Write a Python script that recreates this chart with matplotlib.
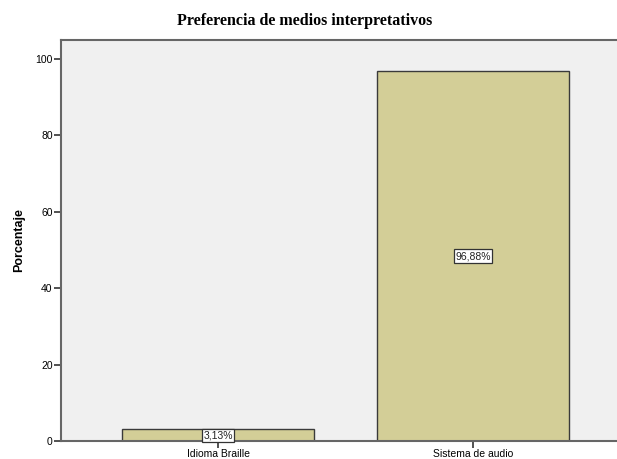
import matplotlib
matplotlib.use('Agg')
import matplotlib.pyplot as plt

# Datos
categorias = ['Idioma Braille', 'Sistema de audio']
porcentajes = [3.13, 96.88]
etiquetas = ['3,13%', '96,88%']
yticks = [0, 20, 40, 60, 80, 100]

fig = plt.figure(figsize=(6.17, 4.59), dpi=100)
ax = fig.add_axes([0.0989, 0.039, 0.922, 0.874])
ax.set_facecolor('#F0F0F0')

x = list(range(len(categorias)))
ax.bar(x, porcentajes, width=0.753, color='#D3CE97', edgecolor='#3A3A3A', linewidth=1.0, zorder=2)

# etiquetas con recuadro en el centro de cada barra
for xi, v, lab in zip(x, porcentajes, etiquetas):
    ax.text(xi, v / 2, lab, ha='center', va='center', fontsize=7.5, family='Liberation Sans',
            color='#222222', zorder=3,
            bbox=dict(boxstyle='square,pad=0.15', facecolor='white', edgecolor='#333333', linewidth=0.9))

ax.set_xlim(-0.616, 1.616)
ax.set_ylim(0, 105)
ax.set_xticks(x)
ax.set_xticklabels(categorias, family='Liberation Sans', fontsize=7.5)
ax.set_yticks(yticks)
ax.set_yticklabels([str(t) for t in yticks], family='Liberation Sans', fontsize=7.5)
ax.tick_params(axis='both', length=5, width=1.2, color='#333333', pad=1)

for s in ax.spines.values():
    s.set_color('#666666')
    s.set_linewidth(1.5)

ax.set_ylabel('Porcentaje', family='Liberation Sans', fontweight='bold', fontsize=9, labelpad=7)

fig.text(0.493, 0.955, 'Preferencia de medios interpretativos', ha='center', va='center',
         family='Liberation Serif', fontweight='bold', fontsize=11.5)

fig.savefig('out.png', dpi=100)
